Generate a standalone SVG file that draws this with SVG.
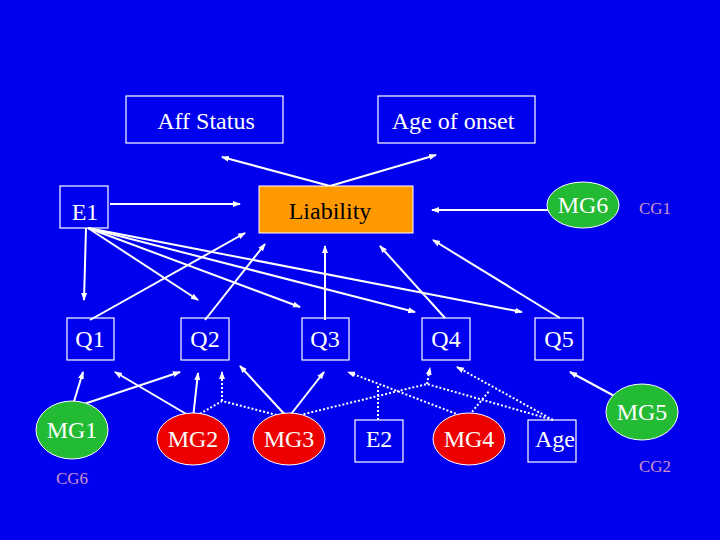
<svg xmlns="http://www.w3.org/2000/svg" width="720" height="540" viewBox="0 0 720 540">
<defs>
<marker id="ah" markerWidth="8" markerHeight="8" refX="7" refY="4" orient="auto" markerUnits="userSpaceOnUse"><path d="M0,1 L8,4 L0,7 Z" fill="#fff"/></marker>
<style>
.b{fill:none;stroke:#fff;stroke-width:1.2}
.t{font-family:"Liberation Serif",serif;font-size:24px;fill:#fff;text-anchor:middle}
.c{font-family:"Liberation Serif",serif;font-size:17px;fill:#d090c8;text-anchor:middle}
.l{stroke:#fff;stroke-width:2;fill:none;marker-end:url(#ah)}
.d{stroke:#fff;stroke-width:2;fill:none;stroke-dasharray:2 2}
.da{stroke:#fff;stroke-width:2;fill:none;stroke-dasharray:2 2;marker-end:url(#ah)}
.g{fill:#22bb33;stroke:#fff;stroke-width:1}
.r{fill:#ee0000;stroke:#fff;stroke-width:1}
</style>
</defs>
<rect width="720" height="540" fill="#0000ee"/>
<g id="connectors">
<path class="l" d="M330,186 L222,157"/><path class="l" d="M330,186 L436,155"/>
<path class="l" d="M110,204 L240,204"/>
<path class="l" d="M548,210 L432,210"/>
<path class="l" d="M86,228 L84,300"/><path class="l" d="M88,228 L198,300"/><path class="l" d="M88,228 L300,307"/><path class="l" d="M88,228 L415,312"/><path class="l" d="M88,228 L522,312"/>
<path class="l" d="M90,320 L245,233"/><path class="l" d="M205,320 L265,244"/><path class="l" d="M325,320 L325,246"/><path class="l" d="M445,318 L380,246"/><path class="l" d="M560,318 L433,240"/>
<path class="l" d="M72,408 L83,372"/><path class="l" d="M72,408 L180,372"/>
<path class="l" d="M193,418 L115,372"/><path class="l" d="M193,418 L198,373"/>
<path class="l" d="M288,418 L240,366"/><path class="l" d="M288,418 L324,372"/>
<path class="d" d="M193,418 L222,401 L288,418"/><path class="da" d="M222,401 L222,372"/>
<path class="d" d="M288,418 L427,384 L553,420"/><path class="da" d="M427,384 L430,368"/>
<path class="da" d="M467,418 L348,372"/><path class="d" d="M378,420 L378,384"/>
<path class="da" d="M553,420 L457,367"/><path class="d" d="M467,418 L490,390"/>
<path class="l" d="M618,398 L570,372"/>
</g>
<g id="aff"><rect class="b" x="126" y="96" width="157" height="47"/><text class="t" x="206" y="129">Aff Status</text></g>
<g id="onset"><rect class="b" x="378" y="96" width="157" height="47"/><text class="t" x="453" y="129">Age of onset</text></g>
<g id="e1"><rect class="b" x="60" y="186" width="48" height="42"/><text class="t" x="85" y="220">E1</text></g>
<g id="liability"><rect x="259" y="186" width="154" height="47" fill="#ff9900" stroke="#fff" stroke-width="1"/><text class="t" x="330" y="219" style="fill:#000">Liability</text></g>
<g id="mg6"><ellipse class="g" cx="583" cy="205" rx="36" ry="23"/><text class="t" x="583" y="213">MG6</text></g>
<g id="cg1"><text class="c" x="655" y="214">CG1</text></g>
<g id="q1"><rect class="b" x="67" y="318" width="47" height="42"/><text class="t" x="90" y="347">Q1</text></g>
<g id="q2"><rect class="b" x="181" y="318" width="48" height="42"/><text class="t" x="205" y="347">Q2</text></g>
<g id="q3"><rect class="b" x="302" y="318" width="47" height="42"/><text class="t" x="325" y="347">Q3</text></g>
<g id="q4"><rect class="b" x="422" y="318" width="48" height="42"/><text class="t" x="446" y="347">Q4</text></g>
<g id="q5"><rect class="b" x="535" y="318" width="48" height="42"/><text class="t" x="559" y="347">Q5</text></g>
<g id="mg1"><ellipse class="g" cx="72" cy="430" rx="36" ry="29"/><text class="t" x="72" y="438">MG1</text></g>
<g id="mg2"><ellipse class="r" cx="193" cy="439" rx="36" ry="26"/><text class="t" x="193" y="447">MG2</text></g>
<g id="mg3"><ellipse class="r" cx="289" cy="439" rx="36" ry="26"/><text class="t" x="289" y="447">MG3</text></g>
<g id="e2"><rect class="b" x="355" y="420" width="48" height="42"/><text class="t" x="379" y="447">E2</text></g>
<g id="mg4"><ellipse class="r" cx="469" cy="439" rx="36" ry="26"/><text class="t" x="469" y="447">MG4</text></g>
<g id="age"><rect class="b" x="528" y="420" width="48" height="42"/><text class="t" x="555" y="447">Age</text></g>
<g id="mg5"><ellipse class="g" cx="642" cy="412" rx="36" ry="28"/><text class="t" x="642" y="420">MG5</text></g>
<g id="cg6"><text class="c" x="72" y="484">CG6</text></g>
<g id="cg2"><text class="c" x="655" y="472">CG2</text></g>
</svg>
